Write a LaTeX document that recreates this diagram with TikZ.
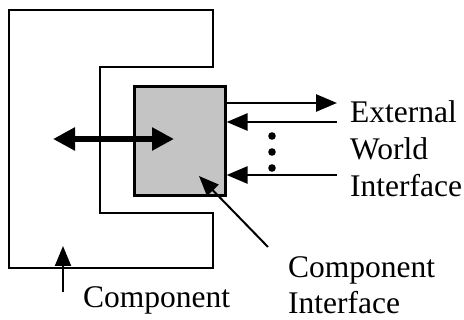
\documentclass[tikz,border=0pt]{standalone}
\usepackage{fontspec}
\setmainfont{Liberation Serif}
\usetikzlibrary{arrows.meta}
\begin{document}
\begin{tikzpicture}[x=1pt,y=-1pt,
  thinline/.style={line width=2.6pt},
  thinhead/.tip={Triangle[length=21pt,width=17pt]},
  thinarrow/.style={line width=2.6pt,-thinhead},
  thickarrow/.style={line width=5.5pt,{Triangle[length=22pt,width=22pt]}-{Triangle[length=22pt,width=22pt]}},
  label/.style={font=\fontsize{31.5}{37}\selectfont,anchor=base west,inner sep=0pt}]
\useasboundingbox (0,0) rectangle (464,320);
% component outline (C shape)
\draw[thinline,line join=miter] (9,10) -- (213,10) -- (213,67) -- (100,67) -- (100,213)
  -- (213,213) -- (213,268) -- (9,268) -- cycle;
% component interface box
\node[draw,thinline,fill=black!23,minimum width=91pt,minimum height=109pt,inner sep=0pt,anchor=north west] (ci) at (133,85) {};
% internal connection
\coordinate (inl) at (53,139);
\coordinate (inr) at (174,139);
\draw[thickarrow] (inl) -- (inr);
% external connections
\coordinate (o1) at (337,103);
\coordinate (o2) at (337,122);
\coordinate (o3) at (337,175);
\draw[thinarrow] (ci.east |- o1) -- (o1);
\draw[thinarrow] (o2) -- (ci.east |- o2);
\draw[thinarrow,thinhead-] (ci.east |- o3) -- (o3);
\foreach \yy in {136,152,168} \fill (272,\yy) circle (3.8pt);
% labels
\node[label] (ext1) at (350,123) {External};
\node[label] (ext2) at (350,160) {World};
\node[label] (ext3) at (350,197) {Interface};
\node[label] (cil1) at (288,278) {Component};
\node[label] (cil2) at (288,314) {Interface};
\node[label] (cl) at (83,308) {Component};
% pointers
\coordinate (cit) at (199,176);
\coordinate (cis) at (268,247);
\draw[line width=2pt,-{Triangle[length=20pt,width=16pt]}] (cis) -- (cit);
\coordinate (ct) at (63,246);
\coordinate (cs) at (63,292);
\draw[line width=2pt,-{Triangle[length=20pt,width=16pt]}] (cs) -- (ct);
\end{tikzpicture}
\end{document}
